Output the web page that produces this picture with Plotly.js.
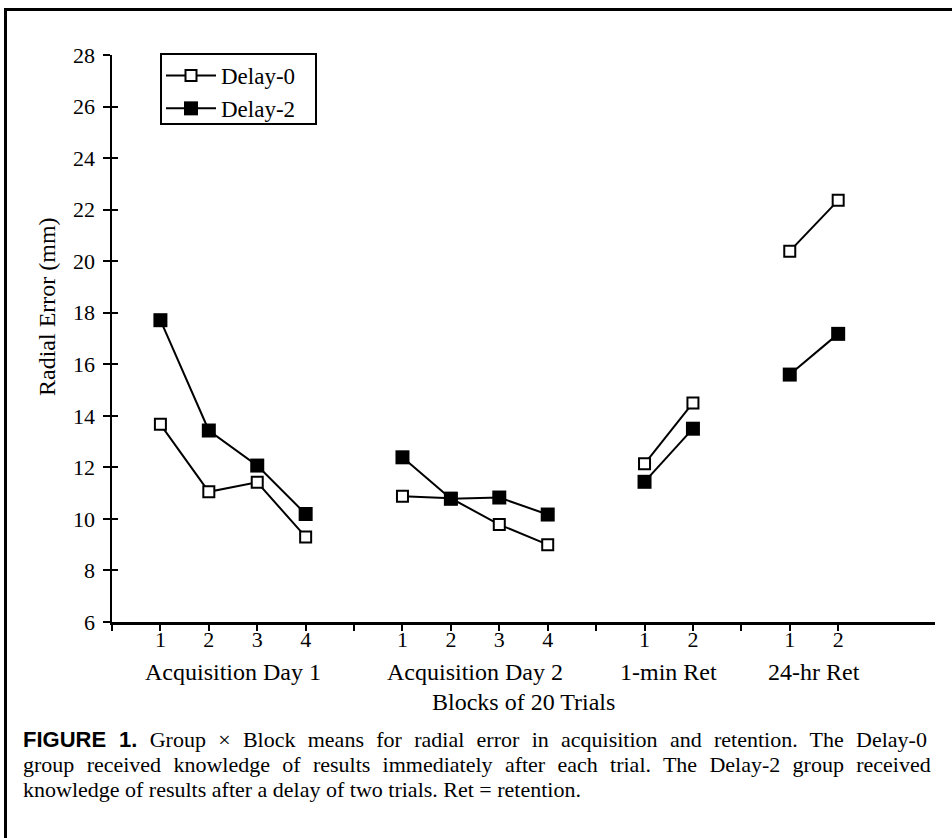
<!DOCTYPE html>
<html>
<head>
<meta charset="utf-8">
<script src="https://cdn.plot.ly/plotly-3.0.1.min.js"></script>
<style>
  html, body { margin: 0; padding: 0; background: #fff; }
  #chart { width: 952px; height: 838px; }
</style>
</head>
<body>
<div id="chart"></div>
<script>
// ---- data ----
const groupNames = ['Acquisition Day 1', 'Acquisition Day 2', '1-min Ret', '24-hr Ret'];
const blockLabels = [['1','2','3','4'], ['1','2','3','4'], ['1','2'], ['1','2']];
const delay0 = [[13.67, 11.05, 11.42, 9.30], [10.88, 10.80, 9.78, 9.00], [12.14, 14.50], [20.39, 22.36]];
const delay2 = [[17.71, 13.43, 12.07, 10.19], [12.39, 10.78, 10.83, 10.17], [11.44, 13.50], [15.60, 17.18]];
const seriesNames = ['Delay-0', 'Delay-2'];
const yTicks = [6, 8, 10, 12, 14, 16, 18, 20, 22, 24, 26, 28];
const xTitle = 'Blocks of 20 Trials';
const yTitle = 'Radial Error (mm)';
const captionLines = [
  '<span style="font-family:\'Liberation Sans\',Arial,sans-serif;font-weight:bold;word-spacing:6.8px">FIGURE 1.</span><span style="word-spacing:6.8px"> Group × Block means for radial error in acquisition and retention. The Delay-0</span>',
  '<span style="word-spacing:6.8px">group received knowledge of results immediately after each trial. The Delay-2 group received</span>',
  'knowledge of results after a delay of two trials. Ret = retention.'
];

// ---- build category positions: groups separated by one empty slot ----
const starts = [];
let pos = 1;
blockLabels.forEach(b => { starts.push(pos); pos += b.length + 1; });
const xMax = pos;  // axis end
const tickvals = [0], ticktext = [''];
blockLabels.forEach((b, g) => {
  if (g > 0) { tickvals.push(starts[g] - 1); ticktext.push(''); }
  b.forEach((lab, i) => { tickvals.push(starts[g] + i); ticktext.push(lab); });
});

function flatten(series) {
  const xs = [], ys = [];
  series.forEach((vals, g) => {
    vals.forEach((v, i) => { xs.push(starts[g] + i); ys.push(v); });
    if (g < series.length - 1) { xs.push(starts[g] + vals.length); ys.push(null); }
  });
  return {xs, ys};
}

const d0 = flatten(delay0), d2 = flatten(delay2);
const serif = "'Liberation Serif', 'Times New Roman', serif";

const traces = [
  {
    x: d0.xs, y: d0.ys, name: seriesNames[0], type: 'scatter', mode: 'lines+markers',
    connectgaps: false, cliponaxis: false,
    line: {color: '#000', width: 2},
    marker: {symbol: 'square', size: 11, color: '#fff', line: {color: '#000', width: 2}}
  },
  {
    x: d2.xs, y: d2.ys, name: seriesNames[1], type: 'scatter', mode: 'lines+markers',
    connectgaps: false, cliponaxis: false,
    line: {color: '#000', width: 2},
    marker: {symbol: 'square', size: 14, color: '#000', line: {color: '#000', width: 0}}
  },
  { // invisible trace on overlay axis to carry inward ticks
    x: [0], y: [6], xaxis: 'x', yaxis: 'y2', mode: 'markers', showlegend: false,
    hoverinfo: 'skip', marker: {opacity: 0}
  }
];

const H = 838, W = 952;
const mL = 112, mR = 17, mT = 55, mB = 216;
const plotW = W - mL - mR, plotH = H - mT - mB;
const py = px => (H - mB - px) / plotH;   // pixel y -> paper y
const pxx = px => (px - mL) / plotW;      // pixel x -> paper x

const annotations = [];
groupNames.forEach((name, g) => {
  const n = blockLabels[g].length;
  annotations.push({
    x: starts[g] + (n - 1) / 2, xref: 'x', y: py(672), yref: 'paper',
    text: name, showarrow: false, xanchor: 'center', yanchor: 'middle',
    font: {family: serif, size: 24, color: '#000'}
  });
});
annotations.push({
  x: 0.5, xref: 'paper', y: py(702), yref: 'paper', text: xTitle, showarrow: false,
  xanchor: 'center', yanchor: 'middle', font: {family: serif, size: 24, color: '#000'}
});
annotations.push({
  x: pxx(47), xref: 'paper', y: py(307), yref: 'paper', text: yTitle, showarrow: false,
  textangle: -90, xanchor: 'center', yanchor: 'middle', font: {family: serif, size: 24, color: '#000'}
});
const capY = [739, 764, 789];
captionLines.forEach((t, i) => {
  annotations.push({
    x: pxx(21), xref: 'paper', y: py(capY[i]), yref: 'paper', text: t, showarrow: false,
    xanchor: 'left', yanchor: 'middle', align: 'left',
    font: {family: serif, size: 22, color: '#000'}
  });
});

const layout = {
  width: W, height: H,
  margin: {l: mL, r: mR, t: mT, b: mB, pad: 0},
  paper_bgcolor: '#fff', plot_bgcolor: '#fff',
  showlegend: true,
  legend: {
    x: pxx(161), y: 1 + (mT - 54) / plotH, xanchor: 'left', yanchor: 'top',
    bgcolor: 'rgba(0,0,0,0)', borderwidth: 0,
    font: {family: serif, size: 23, color: '#000'},
    itemwidth: 50, tracegroupgap: 0
  },
  xaxis: {
    range: [0, xMax], showgrid: false, zeroline: false,
    showline: true, linecolor: '#000', linewidth: 2.5,
    tickmode: 'array', tickvals: tickvals, ticktext: ticktext,
    ticks: 'outside', ticklen: 6, tickwidth: 2, tickcolor: '#000',
    ticklabelstandoff: -10,
    tickfont: {family: serif, size: 22, color: '#000'},
    fixedrange: true
  },
  yaxis: {
    range: [6, 28], showgrid: false, zeroline: false,
    showline: true, linecolor: '#000', linewidth: 2.5,
    tickmode: 'array', tickvals: yTicks,
    ticks: 'outside', ticklen: 7, tickwidth: 2, tickcolor: '#000',
    ticklabelstandoff: 3,
    tickfont: {family: serif, size: 22, color: '#000'},
    fixedrange: true
  },
  yaxis2: {
    range: [6, 28], overlaying: 'y', side: 'left', showgrid: false, zeroline: false,
    showline: false, tickmode: 'array', tickvals: yTicks,
    ticks: 'inside', ticklen: 6, tickwidth: 2, tickcolor: '#000',
    showticklabels: false, fixedrange: true
  },
  shapes: [
    { // frame around the figure (top and left edges visible)
      type: 'rect', xref: 'paper', yref: 'paper',
      x0: pxx(5.5), x1: pxx(W + 20), y0: py(H + 20), y1: py(9.5),
      line: {color: '#000', width: 3}, fillcolor: 'rgba(0,0,0,0)', layer: 'below'
    },
    { // legend box
      type: 'rect', xref: 'paper', yref: 'paper',
      x0: pxx(161), x1: pxx(316), y0: py(124), y1: py(54),
      line: {color: '#000', width: 2}, fillcolor: '#fff', layer: 'below'
    }
  ],
  annotations: annotations
};

Plotly.newPlot('chart', traces, layout, {displayModeBar: false, staticPlot: true});
</script>
</body>
</html>
